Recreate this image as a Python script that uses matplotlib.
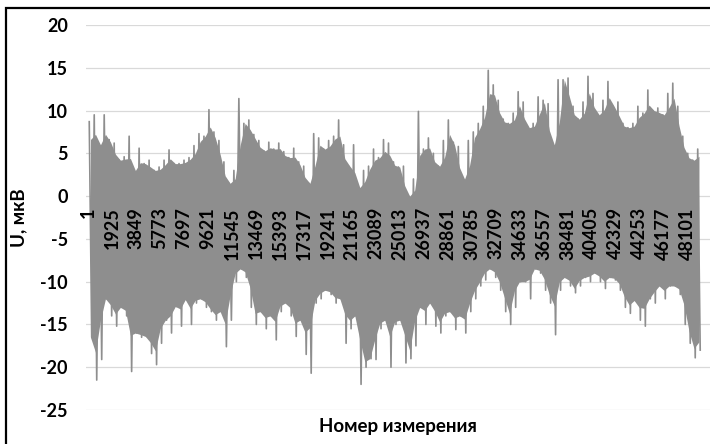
import matplotlib
matplotlib.use("Agg")
import matplotlib.pyplot as plt
import numpy as np
from matplotlib.patches import Rectangle

seg_len = 400
hi = [8.7, 9.5, 6.0, 9.5, 6.6, 6.2, 4.2, 4.6, 7.0, 3.0,
      5.6, 3.8, 4.2, 3.0, 3.4, 4.2, 5.4, 3.8, 3.8, 4.2,
      4.5, 5.9, 7.3, 7.0, 10.1, 7.5, 6.5, 4.0, 1.5, 3.0,
      11.4, 8.5, 8.9, 7.2, 6.5, 5.3, 6.3, 5.5, 6.2, 5.2,
      4.5, 5.6, 4.0, 3.5, 1.5, 7.3, 6.8, 5.5, 6.5, 7.0,
      8.9, 6.0, 3.5, 6.0, 1.0, 3.0, 3.5, 5.5, 4.5, 6.6,
      6.2, 4.0, 3.4, 3.5, 0.0, 2.0, 9.9, 5.5, 6.8, 5.0,
      3.5, 6.5, 8.9, 6.3, 5.8, 2.0, 6.5, 7.5, 8.5, 10.5,
      14.7, 13.0, 11.2, 9.0, 8.5, 9.7, 12.2, 11.0, 8.0, 8.5,
      11.6, 11.2, 10.8, 6.0, 13.6, 13.6, 13.8, 10.5, 9.0, 11.0,
      14.0, 12.0, 9.5, 11.2, 13.4, 10.5, 11.0, 8.5, 8.0, 8.5,
      10.5, 9.7, 12.4, 10.0, 10.3, 9.5, 12.0, 13.2, 10.5, 7.0,
      5.0, 4.2, 5.5]
lo = [-16.5, -21.5, -19.1, -12.0, -14.0, -15.2, -13.0, -14.0, -20.5, -16.0,
      -16.5, -16.4, -18.4, -19.7, -17.2, -14.5, -16.0, -12.9, -15.2, -12.1,
      -15.0, -12.5, -12.0, -13.0, -13.5, -14.5, -13.5, -17.6, -14.5, -10.0,
      -8.5, -9.5, -13.0, -15.0, -13.5, -15.5, -14.0, -16.8, -13.5, -12.5,
      -14.0, -16.4, -14.5, -18.5, -20.7, -12.5, -12.0, -11.0, -11.5, -12.5,
      -12.0, -17.2, -15.5, -14.0, -22.0, -20.0, -19.0, -19.1, -15.5, -14.5,
      -20.0, -15.0, -14.5, -19.5, -19.0, -17.5, -13.0, -15.0, -12.5, -15.2,
      -16.0, -14.0, -13.5, -15.6, -14.0, -16.0, -13.5, -12.0, -10.5, -9.8,
      -8.5, -9.5, -11.0, -13.5, -15.0, -13.0, -10.0, -10.0, -12.0, -8.5,
      -9.0, -11.0, -12.5, -16.2, -11.0, -9.5, -10.5, -11.3, -10.5, -9.5,
      -10.0, -9.0, -10.0, -10.8, -9.5, -9.8, -11.0, -13.0, -13.7, -12.2,
      -14.5, -15.2, -12.0, -12.5, -10.5, -12.0, -10.5, -10.5, -11.5, -15.0,
      -17.2, -18.9, -18.0]

tick_pos = [1, 1925, 3849, 5773, 7697, 9621, 11545, 13469, 15393, 17317,
            19241, 21165, 23089, 25013, 26937, 28861, 30785, 32709, 34633,
            36557, 38481, 40405, 42329, 44253, 46177, 48101]
y_ticks = [20, 15, 10, 5, 0, -5, -10, -15, -20, -25]

plt.rcParams["font.family"] = ["Lato", "DejaVu Sans"]
plt.rcParams["font.weight"] = "bold"
plt.rcParams["axes.unicode_minus"] = False

fig = plt.figure(figsize=(7.1, 4.44), dpi=100)
ax = fig.add_axes([86 / 710, 1 - 410 / 444, 1 - 86 / 710, 385 / 444])

hi_a = np.array(hi)
lo_a = np.array(lo)
idx = np.arange(len(hi))

# interleave top and bottom of each segment so the line zigzags like the raw signal
x = np.empty(2 * len(hi))
y = np.empty(2 * len(hi))
x[0::2] = idx * seg_len + seg_len * 0.25
x[1::2] = idx * seg_len + seg_len * 0.75
y[0::2] = hi_a
y[1::2] = lo_a
gray = "#8e8e8e"
ax.plot(x, y, color=gray, lw=1.2, zorder=2)

# solid core: a bit above the lowest neighbouring peak
min3 = np.minimum(np.minimum(hi_a, np.roll(hi_a, 1)), np.roll(hi_a, -1))
max3 = np.maximum(np.maximum(lo_a, np.roll(lo_a, 1)), np.roll(lo_a, -1))
core_top = 0.35 * hi_a + 0.65 * min3
core_bot = 0.35 * lo_a + 0.65 * max3
xc = idx * seg_len + seg_len * 0.5
ax.fill_between(xc, core_bot, core_top, color=gray, lw=0, zorder=2)

for v in y_ticks:
    ax.axhline(v, color="#d9d9d9", lw=0.9, zorder=0)

ax.set_xlim(-160, -160 + 624 * 80.2)
ax.set_ylim(-25, 20)
ax.set_yticks(y_ticks)
ax.set_xticks(tick_pos)
ax.set_xticklabels([str(t) for t in tick_pos])

for s in ax.spines.values():
    s.set_visible(False)
ax.spines["bottom"].set_position(("data", 0))
ax.tick_params(axis="both", length=0, labelsize=13)
ax.tick_params(axis="y", pad=13)
ax.tick_params(axis="x", pad=8, labelrotation=90)
for lab in ax.get_xticklabels():
    lab.set_verticalalignment("top")
    lab.set_horizontalalignment("center")
ax.xaxis.set_zorder(3)

ax.set_ylabel("U, мкВ", fontsize=13.5, fontweight="bold")
ax.yaxis.set_label_coords(-0.094, 0.5)
ax.set_xlabel("Номер измерения", fontsize=13.5, fontweight="bold")
ax.xaxis.set_label_coords(0.5, -0.02)

fig.patches.append(Rectangle((6 / 710, -0.1), 1.2, 1.1 - 8 / 444,
                             transform=fig.transFigure, fill=False,
                             edgecolor="black", lw=1.6))

fig.savefig("out.png", dpi=100)
